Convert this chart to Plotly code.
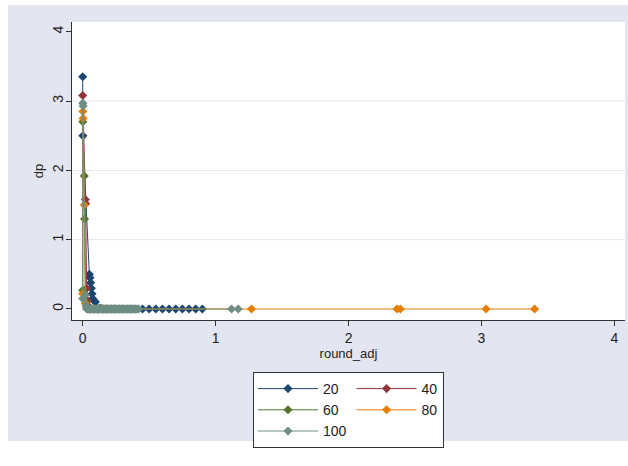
import plotly.graph_objects as go

# dp by round_adj, one series per group size
series_names = ["20", "40", "60", "80", "100"]
series_colors = ["#1a476f", "#90353b", "#55752f", "#e37e00", "#6e8e84"]

x_20 = [0.000, 0.001, 0.050, 0.055, 0.060, 0.065, 0.070, 0.075, 0.085, 0.095, 0.100,
        0.13, 0.16, 0.19, 0.22, 0.25, 0.28, 0.31, 0.34, 0.37, 0.40,
        0.45, 0.50, 0.55, 0.60, 0.65, 0.70, 0.75, 0.80, 0.85, 0.90]
dp_20 = [3.35, 2.50, 0.50, 0.45, 0.38, 0.30, 0.22, 0.15, 0.12, 0.10, 0.02,
         0.01, 0, 0, 0, 0, 0, 0, 0, 0, 0,
         0, 0, 0, 0, 0, 0, 0, 0, 0, 0]

x_40 = [0.000, 0.020, 0.022, 0.030, 0.036, 0.045, 0.06,
        0.08, 0.10, 0.12, 0.15, 0.18, 0.21, 0.24]
dp_40 = [3.08, 1.58, 1.52, 0.30, 0.12, 0.04, 0.01,
         0, 0, 0, 0, 0, 0, 0]

x_60 = [0.000, 0.001, 0.012, 0.014, 0.024, 0.030, 0.040, 0.06,
        0.09, 0.12, 0.15, 0.18, 0.21, 0.24, 0.27, 0.30]
dp_60 = [0.27, 2.70, 1.92, 1.30, 0.10, 0.02, 0, 0,
         0, 0, 0, 0, 0, 0, 0, 0]

x_80 = [0.000, 0.001, 0.003, 0.013, 0.020, 0.030, 0.05, 0.08,
        0.11, 0.145, 1.27, 2.365, 2.39, 3.035, 3.40]
dp_80 = [0.22, 2.85, 2.75, 1.50, 0.08, 0.02, 0, 0,
         0, 0.01, 0, 0, 0, 0, 0]

x_100 = [0.000, 0.001, 0.003, 0.020, 0.025,
         0.03, 0.04, 0.05, 0.06, 0.07, 0.08, 0.09, 0.10, 0.11, 0.12,
         0.13, 0.14, 0.15, 0.16, 0.17, 0.18, 0.19, 0.20, 0.21, 0.22,
         0.23, 0.24, 0.25, 0.26, 0.27, 0.28, 0.29, 0.30, 0.31, 0.32,
         0.33, 0.34, 0.35, 0.36, 0.37, 0.38, 0.39, 0.40, 0.41, 0.42,
         1.12, 1.17]
dp_100 = [0.15, 2.97, 2.93, 0.20, 0.05,
          0, 0, 0, 0, 0, 0, 0, 0, 0, 0,
          0, 0, 0, 0, 0, 0, 0, 0, 0, 0,
          0, 0, 0, 0, 0, 0, 0, 0, 0, 0,
          0, 0, 0, 0, 0, 0, 0, 0, 0, 0,
          0, 0]

x_values = [x_20, x_40, x_60, x_80, x_100]
dp_values = [dp_20, dp_40, dp_60, dp_80, dp_100]

y_ticks = [0, 1, 2, 3, 4]
x_ticks = [0, 1, 2, 3, 4]
grid_levels = [1, 2, 3]

BG = "#e3e6f0"
INK = "#222222"
FONT = "Liberation Sans, Arial, sans-serif"

# plot-area geometry in pixels
W, H = 628, 466
ML, MR, MT, MB = 72, 3, 22, 146
PW, PH = W - ML - MR, H - MT - MB


def px_x(px):
    return (px - ML) / PW


def px_y(py):
    return (H - MB - py) / PH


fig = go.Figure()

# legend laid out in two columns: groups stack vertically in horizontal mode
legend_groups = ["a", "b", "a", "b", "a"]
for name, color, xs, ys, grp in zip(series_names, series_colors, x_values,
                                    dp_values, legend_groups):
    fig.add_trace(go.Scatter(
        x=xs, y=ys, name=name, mode="lines+markers", legendgroup=grp,
        line=dict(color=color, width=1),
        marker=dict(symbol="diamond", size=7, color=color, line=dict(width=0)),
    ))

shapes = []
for lvl in grid_levels:
    shapes.append(dict(type="line", xref="paper", yref="y", x0=0, x1=1, y0=lvl, y1=lvl,
                       line=dict(color="#e6e6e6", width=1), layer="below"))
# white frame round the graph region
shapes += [
    dict(type="rect", xref="paper", yref="paper", x0=px_x(0), x1=px_x(W),
         y0=px_y(0), y1=px_y(5), fillcolor="white", line=dict(width=0), layer="below"),
    dict(type="rect", xref="paper", yref="paper", x0=px_x(0), x1=px_x(8),
         y0=px_y(0), y1=px_y(H), fillcolor="white", line=dict(width=0), layer="below"),
    dict(type="rect", xref="paper", yref="paper", x0=px_x(0), x1=px_x(W),
         y0=px_y(441), y1=px_y(H), fillcolor="white", line=dict(width=0), layer="below"),
]

fig.update_layout(
    width=W, height=H,
    margin=dict(l=ML, r=MR, t=MT, b=MB, pad=0),
    paper_bgcolor=BG, plot_bgcolor="white",
    font=dict(family=FONT, color=INK, size=13),
    shapes=shapes,
    showlegend=True,
    legend=dict(
        orientation="h", traceorder="grouped", tracegroupgap=36,
        x=0.5, xanchor="center", y=px_y(372), yanchor="top",
        bgcolor="white", bordercolor="#333333", borderwidth=1,
        font=dict(size=14, family=FONT, color=INK),
        itemwidth=60,
    ),
    xaxis=dict(
        range=[-0.0805, 4.08], tickvals=x_ticks, ticktext=[str(v) for v in x_ticks],
        showgrid=False, zeroline=False, showline=True, linecolor="#333333", linewidth=1,
        ticks="outside", ticklen=5, tickcolor="#333333", tickfont=dict(size=14),
        title=dict(text="round_adj", font=dict(size=13), standoff=2),
        automargin=False,
    ),
    yaxis=dict(
        range=[-0.159, 4.141], tickvals=y_ticks, ticktext=[str(v) for v in y_ticks],
        showgrid=False, zeroline=False, showline=True, linecolor="#333333", linewidth=1,
        ticks="outside", ticklen=5, tickcolor="#333333", tickangle=-90,
        tickfont=dict(size=14), ticklabelstandoff=-3,
        title=dict(text="dp", font=dict(size=13), standoff=3),
        automargin=False,
    ),
)

fig.write_html("out.html")
